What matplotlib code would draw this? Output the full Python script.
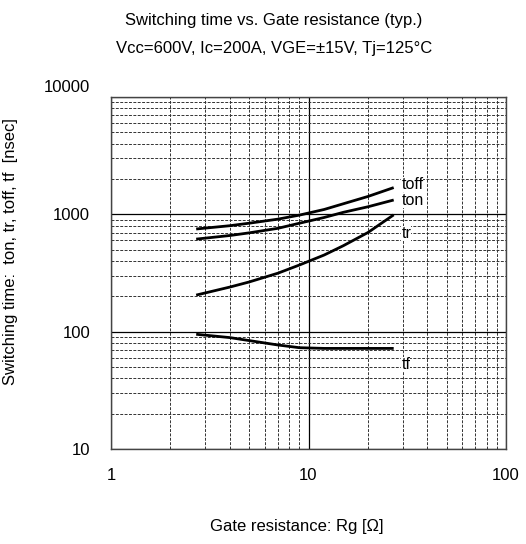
import matplotlib
matplotlib.use('Agg')
import matplotlib.pyplot as plt
import matplotlib.transforms as mtransforms
from matplotlib.ticker import LogLocator, NullFormatter

plt.rcParams['font.family'] = ['Liberation Sans', 'DejaVu Sans']

# Gate resistance [ohm] and switching times [nsec]
rg = [2.7, 4.0, 5.0, 7.0, 9.0, 12.0, 15.0, 20.0, 27.0]
toff = [750, 800, 840, 910, 985, 1100, 1230, 1420, 1690]
ton = [615, 660, 695, 760, 840, 940, 1040, 1160, 1325]
tr = [205, 240, 265, 315, 370, 450, 540, 700, 990]
tf = [95, 89, 84, 77, 73, 72, 72, 72, 72]

curve_labels = ['toff', 'ton', 'tr', 'tf']
label_y = [1780, 1300, 690, 53]

fig = plt.figure(figsize=(5.26, 5.44), dpi=100)
ax = fig.add_axes([111 / 526, 1 - 449 / 544, 395 / 526, 352 / 544])

ax.set_xscale('log')
ax.set_yscale('log')
ax.set_xlim(1, 100)
ax.set_ylim(10, 10000)

for ys in (toff, ton, tr, tf):
    ax.plot(rg, ys, color='black', linewidth=2.0, solid_capstyle='butt', zorder=5)

for name, yv in zip(curve_labels, label_y):
    ax.text(29.5, yv, name, fontsize=11.5, ha='left', va='center', zorder=6,
            bbox=dict(facecolor='white', edgecolor='none', pad=0.0))

# scanned-style grid
ax.grid(True, which='major', color='black', linewidth=0.9, linestyle='-')
ax.grid(True, which='minor', color='#333333', linewidth=0.7, linestyle=(0, (3, 1.5)))
ax.xaxis.set_minor_locator(LogLocator(base=10, subs=range(2, 10)))
ax.yaxis.set_minor_locator(LogLocator(base=10, subs=range(2, 10)))
ax.xaxis.set_minor_formatter(NullFormatter())
ax.yaxis.set_minor_formatter(NullFormatter())

ax.set_xticks([1, 10, 100])
ax.set_xticklabels(['1', '10', '100'])
ax.set_yticks([10, 100, 1000, 10000])
ax.set_yticklabels(['10', '100', '1000', '10000'])
ax.tick_params(which='both', length=0, labelsize=12)
ax.tick_params(axis='x', pad=14)
ax.tick_params(axis='y', pad=15)
# top label sits a little above the frame on the original sheet
top = ax.get_yticklabels()[-1]
top.set_transform(top.get_transform() + mtransforms.ScaledTranslation(0, 8 / 72, fig.dpi_scale_trans))

for s in ax.spines.values():
    s.set_color('#444444')
    s.set_linewidth(1.0)

ax.set_xlabel('Gate resistance: Rg [\u03a9]', fontsize=12)
ax.xaxis.set_label_coords(0.47, -0.2)
ax.set_ylabel('Switching time:  ton, tr, toff, tf  [nsec]', fontsize=12)
ax.yaxis.set_label_coords(-0.235, 0.56)

fig.text(274 / 526, 1 - 20 / 544, 'Switching time vs. Gate resistance (typ.)', ha='center', va='center', fontsize=12)
fig.text(274 / 526, 1 - 48 / 544, 'Vcc=600V, Ic=200A, VGE=\u00b115V, Tj=125\u00b0C', ha='center', va='center', fontsize=12)

fig.savefig('out.png', dpi=100)
